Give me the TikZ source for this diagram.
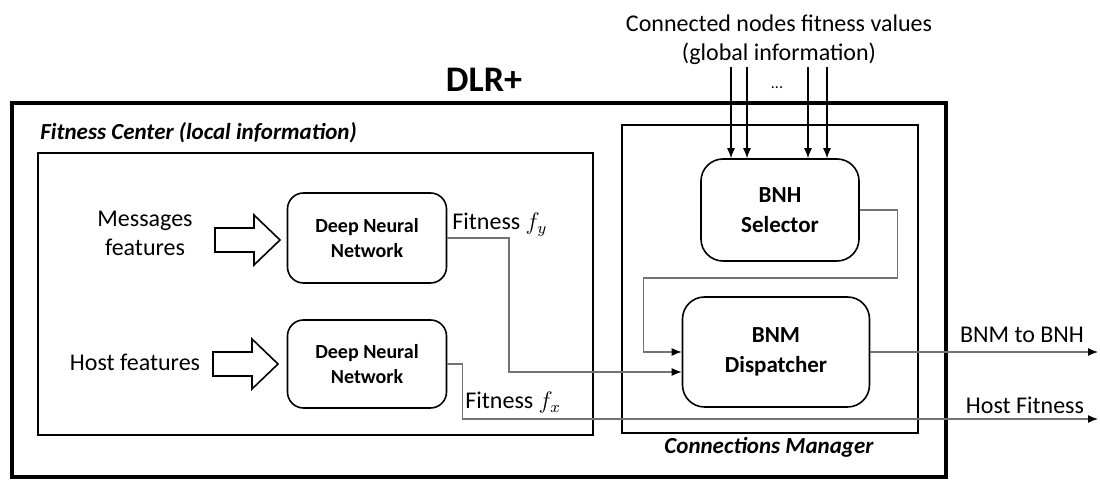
\documentclass[tikz,border=0pt]{standalone}
\usepackage{amsmath}
\usepackage{fontspec}
\setmainfont{Carlito}
\usepackage{tikz}
\usetikzlibrary{arrows.meta,calc}

\begin{document}
\begin{tikzpicture}[x=0.5pt,y=-0.5pt,
  every node/.style={font=\fontsize{12}{14.5}\selectfont, inner sep=1pt},
  block/.style={draw, line width=0.8pt, rounded corners=8pt, align=center,
    font=\fontsize{10}{12.5}\selectfont\bfseries},
  conn/.style={draw=black!55, line width=0.6pt, -{Latex[length=5pt,width=4pt,color=black]}},
  fat/.style={draw, line width=0.8pt, fill=white}]
\useasboundingbox (0,0) rectangle (1100,480);

% frames
\draw[line width=2pt] (12,103) rectangle (946,477);
\draw[line width=1.2pt] (38,153) rectangle (593,435);
\draw[line width=1.2pt] (622,125) rectangle (918,433);

\node (dlr) at (484,80) {\fontsize{18}{20}\selectfont\bfseries DLR+};
\node[anchor=west] (fc) at (38,133) {\fontsize{11.5}{14}\selectfont\bfseries\itshape Fitness Center (local information)};
\node (cm) at (769,447) {\fontsize{11.5}{14}\selectfont\bfseries\itshape Connections Manager};
\node[align=center] (glob) at (779,40) {Connected nodes fitness values\\(global information)};
\node (dots) at (777,88) {\fontsize{8}{9}\selectfont ...};

% blocks
\node[block, minimum width=79.5pt, minimum height=45pt] (dnn1) at (367,238) {Deep Neural\\Network};
\node[block, minimum width=79.5pt, minimum height=44pt] (dnn2) at (367,364) {Deep Neural\\Network};
\node[block, rounded corners=11pt, minimum width=79pt, minimum height=51pt,
  font=\fontsize{11.5}{15}\selectfont\bfseries] (sel) at (780,210) {BNH\\Selector};
\node[block, rounded corners=11pt, minimum width=93.5pt, minimum height=55pt,
  font=\fontsize{11.5}{15}\selectfont\bfseries] (disp) at (776,352) {BNM\\Dispatcher};

% inputs
\node[align=center] (msg) at (145,233) {Messages\\features};
\node (host) at (135,362) {Host features};
\draw[fat] (215,240) ++(0,-12) -- ++(39,0) -- ++(0,-13) -- ++(26,25) -- ++(-26,25) -- ++(0,-13) -- ++(-39,0) -- cycle;
\draw[fat] (213,364) ++(0,-12) -- ++(39,0) -- ++(0,-13) -- ++(26,25) -- ++(-26,25) -- ++(0,-13) -- ++(-39,0) -- cycle;

\foreach \dx in {-49,-33,28,47}
  \draw[-{Latex[length=5pt,width=4pt]}, line width=0.6pt] ($(sel.north)+(\dx,-91)$) -- ($(sel.north)+(\dx,0)$);

% connectors
\coordinate (bnmout) at (1098,352);
\coordinate (hostout) at (1098,419);
\draw[conn] (dnn1.east) -- (509,238) |- ($(disp.west)+(0,20)$);
\draw[conn] (sel.east) -- ++(38,0) -- ++(0,68) -| ($(disp.west)+(-38,0)$) -- (disp.west);
\draw[conn] (disp.east) -- (bnmout);
\draw[conn] (dnn2.east) -- ++(15,0) |- (hostout);

\node[anchor=west] (fy) at (450,225) {Fitness $f_y$};
\node[anchor=west] (fx) at (463,403) {Fitness $f_x$};
\node (bnm) at (1022,335) {BNM to BNH};
\node (hf) at (1025,405) {Host Fitness};
\end{tikzpicture}
\end{document}
